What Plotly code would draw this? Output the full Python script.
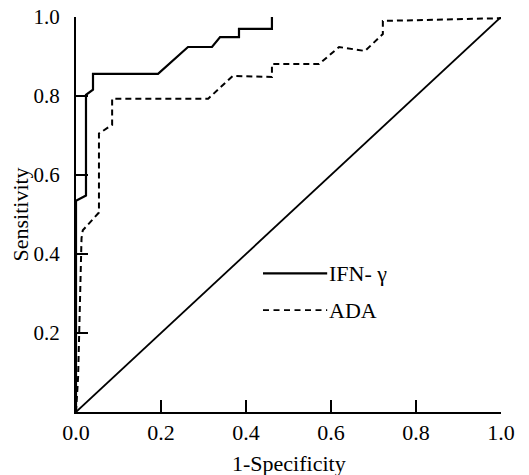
import plotly.graph_objects as go

# IFN-γ ROC curve (1-specificity, sensitivity)
ifn_x = [0.0, 0.0, 0.0235, 0.0235, 0.040, 0.040, 0.193, 0.2635, 0.320, 0.339, 0.3835, 0.3835, 0.461, 0.461]
ifn_y = [0.0, 0.535, 0.548, 0.803, 0.816, 0.856, 0.856, 0.924, 0.924, 0.949, 0.949, 0.970, 0.970, 1.0]

# ADA ROC curve
ada_x = [0.0, 0.005, 0.013, 0.016, 0.054, 0.054, 0.085, 0.085, 0.311, 0.369, 0.461, 0.461,
         0.572, 0.619, 0.680, 0.722, 0.722, 1.0]
ada_y = [0.0, 0.09, 0.44, 0.46, 0.505, 0.705, 0.727, 0.793, 0.793, 0.851, 0.848, 0.881,
         0.881, 0.924, 0.914, 0.957, 0.990, 0.997]

# reference diagonal
ref_x = [0.0, 1.0]
ref_y = [0.0, 1.0]

x_ticks = [0.0, 0.2, 0.4, 0.6, 0.8, 1.0]
y_ticks = [0.2, 0.4, 0.6, 0.8, 1.0]
series_names = ["IFN- γ", "ADA"]
x_title = "1-Specificity"
y_title = "Sensitivity"

FONT = "'Times New Roman', 'Liberation Serif', serif"

fig = go.Figure()
fig.add_trace(go.Scatter(x=ref_x, y=ref_y, mode="lines",
                         line=dict(color="black", width=1.8), showlegend=False))
fig.add_trace(go.Scatter(x=ada_x, y=ada_y, mode="lines", name=series_names[1],
                         line=dict(color="black", width=2, dash="6px,4px"), showlegend=False))
fig.add_trace(go.Scatter(x=ifn_x, y=ifn_y, mode="lines", name=series_names[0],
                         line=dict(color="black", width=2.2), showlegend=False))

# custom legend
leg_y = [0.351, 0.258]
fig.add_shape(type="line", xref="x", yref="y", x0=0.44, x1=0.591, y0=leg_y[0], y1=leg_y[0],
              line=dict(color="black", width=2.4))
fig.add_shape(type="line", xref="x", yref="y", x0=0.44, x1=0.591, y0=leg_y[1], y1=leg_y[1],
              line=dict(color="black", width=1.8, dash="6px,4.5px"))
for name, yy in zip(series_names, leg_y):
    fig.add_annotation(x=0.596, y=yy, xref="x", yref="y", text=name, showarrow=False,
                       xanchor="left", yanchor="middle", xshift=-2,
                       font=dict(family=FONT, size=22, color="black"))

# axis titles
fig.add_annotation(x=0.5, y=0, xref="paper", yref="paper", text=x_title, showarrow=False,
                   xanchor="center", yanchor="middle", yshift=-51,
                   font=dict(family=FONT, size=22, color="black"))
fig.add_annotation(x=0, y=0.5, xref="paper", yref="paper", text=y_title, showarrow=False,
                   xanchor="center", yanchor="middle", xshift=-56, textangle=-90,
                   font=dict(family=FONT, size=22, color="black"))

fig.update_layout(
    width=529, height=475,
    margin=dict(l=76, r=28, t=17, b=63),
    paper_bgcolor="white", plot_bgcolor="white",
    font=dict(family=FONT, size=22, color="black"),
    showlegend=False,
)
fig.update_xaxes(range=[0, 1], tickvals=x_ticks, ticktext=[f"{v:.1f}" for v in x_ticks],
                 showline=True, linecolor="black", linewidth=2, automargin=False,
                 ticks="inside", ticklen=12, tickwidth=1.5, tickcolor="black",
                 showgrid=False, zeroline=False, tickfont=dict(family=FONT, size=22))
fig.update_yaxes(range=[0, 1], tickvals=y_ticks, ticktext=[f"{v:.1f}" for v in y_ticks],
                 showline=True, linecolor="black", linewidth=2, automargin=False,
                 ticks="inside", ticklen=12, tickwidth=1.5, tickcolor="black",
                 ticklabelstandoff=10,
                 showgrid=False, zeroline=False, tickfont=dict(family=FONT, size=21))

fig.write_html("out.html", config={"displayModeBar": False},
               post_script="document.body.style.margin='0';")
